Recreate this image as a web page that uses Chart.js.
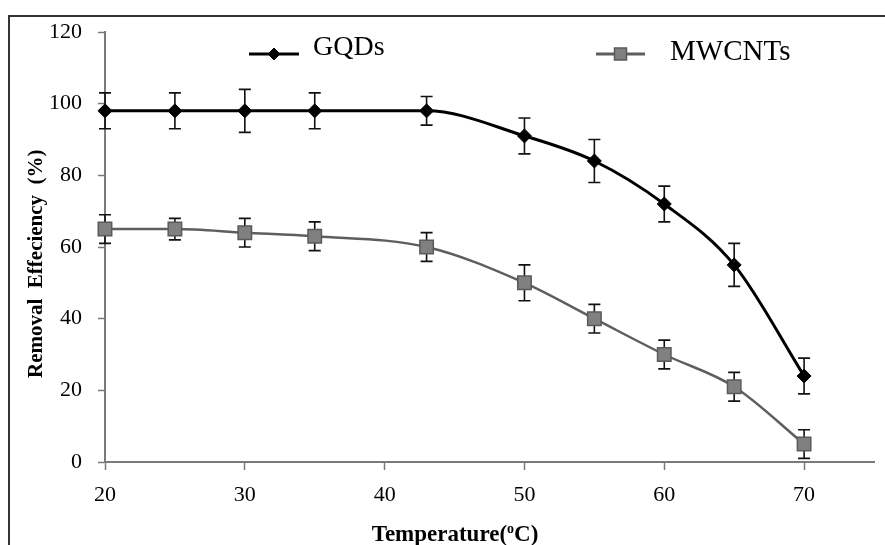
<!DOCTYPE html>
<html>
<head>
<meta charset="utf-8">
<script src="https://cdn.jsdelivr.net/npm/chart.js@4/dist/chart.umd.min.js"></script>
<style>
  html, body { margin: 0; padding: 0; background: #fff; }
  #wrap { position: relative; width: 885px; height: 545px; }
  canvas { display: block; }
</style>
</head>
<body>
<div id="wrap"><canvas id="c" width="885" height="545"></canvas></div>
<script>
// ---- data ----
const temperatures = [20, 25, 30, 35, 43, 50, 55, 60, 65, 70];
const gqdsRemoval = [98, 98, 98, 98, 98, 91, 84, 72, 55, 24];
const gqdsError = [5, 5, 6, 5, 4, 5, 6, 5, 6, 5];
const mwcntsRemoval = [65, 65, 64, 63, 60, 50, 40, 30, 21, 5];
const mwcntsError = [4, 3, 4, 4, 4, 5, 4, 4, 4, 4];
const seriesNames = ['GQDs', 'MWCNTs'];
const xTickValues = [20, 30, 40, 50, 60, 70];
const yTickValues = [0, 20, 40, 60, 80, 100, 120];
const xAxisTitle = ['Temperature(', 'o', 'C)'];
const yAxisTitle = 'Removal  Effeciency  (%)';

const serif = "'Liberation Serif', 'Times New Roman', serif";

function toPoints(xs, ys) { return xs.map((x, i) => ({ x: x, y: ys[i] })); }

const errorBars = {
  id: 'errorBars',
  beforeDatasetsDraw(chart) {
    const ctx = chart.ctx, xs = chart.scales.x, ys = chart.scales.y;
    const errs = [gqdsError, mwcntsError];
    ctx.save();
    ctx.strokeStyle = '#111';
    ctx.lineWidth = 1.6;
    chart.data.datasets.forEach((ds, di) => {
      ds.data.forEach((p, i) => {
        const e = errs[di][i];
        const px = xs.getPixelForValue(p.x);
        const top = ys.getPixelForValue(p.y + e);
        const bot = ys.getPixelForValue(p.y - e);
        ctx.beginPath();
        ctx.moveTo(px, top); ctx.lineTo(px, bot);
        ctx.moveTo(px - 6, top); ctx.lineTo(px + 6, top);
        ctx.moveTo(px - 6, bot); ctx.lineTo(px + 6, bot);
        ctx.stroke();
      });
    });
    ctx.restore();
  }
};

const decorations = {
  id: 'decorations',
  beforeDraw(chart) {
    const ctx = chart.ctx;
    ctx.save();
    ctx.strokeStyle = '#333';
    ctx.lineWidth = 2;
    ctx.beginPath();
    ctx.moveTo(9, 545); ctx.lineTo(9, 16); ctx.lineTo(885, 16);
    ctx.stroke();
    ctx.restore();
  },
  afterDraw(chart) {
    const ctx = chart.ctx;
    ctx.save();
    ctx.fillStyle = '#000';
    // y-axis title
    ctx.font = "bold 21px " + serif;
    ctx.translate(37, 378);
    ctx.rotate(-Math.PI / 2);
    ctx.textAlign = 'left';
    ctx.textBaseline = 'middle';
    ctx.fillText(yAxisTitle, 0, 0);
    ctx.restore();

    // x-axis title with superscript o
    ctx.save();
    ctx.fillStyle = '#000';
    ctx.textBaseline = 'alphabetic';
    ctx.textAlign = 'left';
    const big = "bold 23px " + serif, small = "bold 14px " + serif;
    ctx.font = big; const w1 = ctx.measureText(xAxisTitle[0]).width;
    const w3 = ctx.measureText(xAxisTitle[2]).width;
    ctx.font = small; const w2 = ctx.measureText(xAxisTitle[1]).width;
    let x0 = 455 - (w1 + w2 + w3) / 2;
    const base = 541;
    ctx.font = big; ctx.fillText(xAxisTitle[0], x0, base);
    ctx.font = small; ctx.fillText(xAxisTitle[1], x0 + w1, base - 8);
    ctx.font = big; ctx.fillText(xAxisTitle[2], x0 + w1 + w2, base);
    ctx.restore();

    // legend
    const items = [
      { x1: 249, x2: 299, y: 54, tx: 313, ty: 48, size: 28, ds: chart.data.datasets[0], r: 6 },
      { x1: 596, x2: 645, y: 54, tx: 670, ty: 52, size: 29, ds: chart.data.datasets[1], r: 8.5 }
    ];
    items.forEach((it, i) => {
      ctx.save();
      ctx.strokeStyle = it.ds.borderColor;
      ctx.lineWidth = 3;
      ctx.beginPath(); ctx.moveTo(it.x1, it.y); ctx.lineTo(it.x2, it.y); ctx.stroke();
      ctx.fillStyle = it.ds.pointBackgroundColor;
      ctx.strokeStyle = it.ds.pointBorderColor;
      ctx.lineWidth = it.ds.pointBorderWidth;
      Chart.helpers.drawPoint(ctx, { pointStyle: it.ds.pointStyle, radius: it.r, rotation: 0, borderWidth: it.ds.pointBorderWidth }, (it.x1 + it.x2) / 2, it.y);
      ctx.fillStyle = '#000';
      ctx.font = it.size + "px " + serif;
      ctx.textAlign = 'left';
      ctx.textBaseline = 'middle';
      ctx.fillText(seriesNames[i], it.tx, it.ty);
      ctx.restore();
    });
  }
};

const axisColor = '#7a7a7a';

new Chart(document.getElementById('c'), {
  type: 'line',
  data: {
    datasets: [
      {
        label: seriesNames[0],
        data: toPoints(temperatures, gqdsRemoval),
        borderColor: '#000',
        borderWidth: 3,
        cubicInterpolationMode: 'monotone',
        pointStyle: 'rectRot',
        pointRadius: 7,
        pointBackgroundColor: '#000',
        pointBorderColor: '#000',
        pointBorderWidth: 1,
        clip: false
      },
      {
        label: seriesNames[1],
        data: toPoints(temperatures, mwcntsRemoval),
        borderColor: '#5e5e5e',
        borderWidth: 2.5,
        cubicInterpolationMode: 'monotone',
        pointStyle: 'rect',
        pointRadius: 9.5,
        pointBackgroundColor: '#808080',
        pointBorderColor: '#5a5a5a',
        pointBorderWidth: 1.5,
        clip: false
      }
    ]
  },
  options: {
    responsive: false,
    animation: false,
    events: [],
    layout: { padding: { left: 0, right: 8, top: 32, bottom: 0 } },
    plugins: { legend: { display: false }, tooltip: { enabled: false }, title: { display: false } },
    scales: {
      x: {
        type: 'linear',
        min: 20,
        max: 75,
        afterBuildTicks(scale) { scale.ticks = xTickValues.map(v => ({ value: v })); },
        afterFit(scale) { scale.height = 83; },
        grid: { display: true, drawOnChartArea: false, drawTicks: true, tickLength: 8, tickColor: axisColor, tickWidth: 1.5 },
        border: { display: true, color: axisColor, width: 2 },
        ticks: { color: '#000', padding: 12, maxRotation: 0, font: { family: serif, size: 22 } }
      },
      y: {
        type: 'linear',
        min: 0,
        max: 120,
        afterBuildTicks(scale) { scale.ticks = yTickValues.map(v => ({ value: v })); },
        afterFit(scale) { scale.width = 105; },
        grid: { display: true, drawOnChartArea: false, drawTicks: true, tickLength: 7, tickColor: axisColor, tickWidth: 1.5 },
        border: { display: true, color: axisColor, width: 2 },
        ticks: { color: '#000', padding: 16, font: { family: serif, size: 22 } }
      }
    }
  },
  plugins: [errorBars, decorations]
});
</script>
</body>
</html>
